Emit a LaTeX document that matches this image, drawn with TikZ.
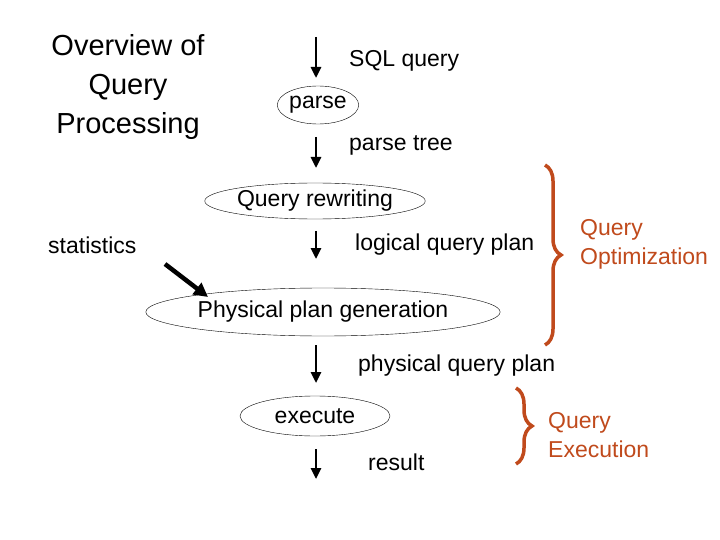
\documentclass[tikz,border=0pt]{standalone}
\usepackage{fontspec}
\setmainfont{Liberation Sans}
\usetikzlibrary{shapes.geometric,decorations.pathreplacing,arrows.meta}
\definecolor{qbrown}{HTML}{C04A1C}
\begin{document}
\begin{tikzpicture}[x=1pt,y=-1pt,
  lbl/.style={font=\fontsize{23}{26}\selectfont, anchor=west, inner sep=0pt},
  stage/.style={ellipse, draw, thin, inner sep=0pt, font=\fontsize{23}{26}\selectfont},
  flow/.style={-{Triangle[length=11pt,width=10pt]}, line width=2.6pt},
  brace/.style={qbrown, line width=3.5pt, decorate, decoration={brace, amplitude=16pt}},
  side/.style={qbrown, font=\fontsize{23}{29}\selectfont, align=left, anchor=west, inner sep=0pt}]
  \useasboundingbox (0,0) rectangle (720,540);

  % Titel.
  \node[font=\fontsize{29}{39}\selectfont, align=center] (title) at (128,87)
    {Overview of\\Query\\Processing};

  % Schritte.
  \node[stage, minimum width=80, minimum height=38] (parse) at (318,105) {parse};
  \node[stage, minimum width=220, minimum height=36] (rewrite) at (315,201) {Query rewriting};
  \node[stage, minimum width=310, minimum height=48] (phys) at (323,312) {Physical plan generation};
  \node[stage, minimum width=150, minimum height=40] (exec) at (315,416) {execute};

  % Pfeile.
  \coordinate (a1s) at (316,37);  \coordinate (a1e) at (316,78);
  \coordinate (a2s) at (316,137); \coordinate (a2e) at (316,168);
  \coordinate (a3s) at (316,231); \coordinate (a3e) at (316,259);
  \coordinate (a4s) at (316,345); \coordinate (a4e) at (316,383);
  \coordinate (a5s) at (316,449); \coordinate (a5e) at (316,479);
  \draw[flow] (a1s) -- (a1e);
  \draw[flow] (a2s) -- (a2e);
  \draw[flow] (a3s) -- (a3e);
  \draw[flow] (a4s) -- (a4e);
  \draw[flow] (a5s) -- (a5e);

  % Beschriftungen.
  \node[lbl] (sql) at (349,61) {SQL query};
  \node[lbl] (ptree) at (349,145) {parse tree};
  \node[lbl] (lqp) at (355,245) {logical query plan};
  \node[lbl] (pqp) at (358,366) {physical query plan};
  \node[lbl] (res) at (368,462) {result};
  \node[lbl] (stats) at (48,245) {statistics};

  \coordinate (st) at (165,264);
  \coordinate (ste) at (208,297);
  \draw[line width=4.5pt, -{Triangle[length=14pt,width=14pt]}] (st) -- (ste);

  % Klammern.
  \draw[brace] (545,165) -- (545,345);
  \draw[brace] (516,388) -- (516,464);
  \node[side] (qopt) at (580,244) {Query\\Optimization};
  \node[side] (qexec) at (548,435) {Query\\Execution};
\end{tikzpicture}
\end{document}
